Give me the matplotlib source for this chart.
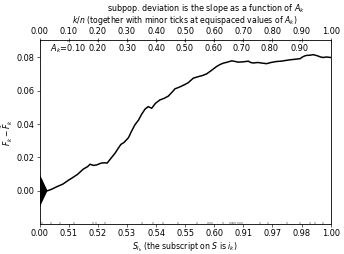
import matplotlib
matplotlib.use('Agg')
import matplotlib.pyplot as plt

# cumulative difference curve (x = k/n, y = F_k - tilde F_k)
xs = [0.0, 0.027, 0.04, 0.06, 0.08, 0.098, 0.11, 0.13, 0.15, 0.165, 0.173,
      0.185, 0.196, 0.21, 0.222, 0.232, 0.245, 0.259, 0.27, 0.279, 0.29,
      0.305, 0.315, 0.327, 0.34, 0.35, 0.362, 0.373, 0.385, 0.398, 0.413,
      0.428, 0.442, 0.455, 0.465, 0.48, 0.497, 0.51, 0.528, 0.545, 0.56,
      0.574, 0.59, 0.608, 0.62, 0.631, 0.645, 0.66, 0.672, 0.682, 0.70,
      0.717, 0.725, 0.734, 0.75, 0.765, 0.78, 0.795, 0.814, 0.83, 0.845,
      0.86, 0.88, 0.895, 0.905, 0.915, 0.93, 0.94, 0.955, 0.965, 0.975,
      0.985, 1.0]
ys = [0.0, 0.0, 0.0008, 0.0025, 0.004, 0.0062, 0.0075, 0.0098, 0.013,
      0.0145, 0.0159, 0.0152, 0.0155, 0.0165, 0.0168, 0.0166, 0.0195,
      0.0225, 0.0255, 0.0278, 0.029, 0.0318, 0.0355, 0.0395, 0.0425,
      0.0458, 0.049, 0.0505, 0.0495, 0.0525, 0.0545, 0.0555, 0.0568,
      0.0592, 0.0612, 0.0622, 0.0636, 0.0648, 0.0676, 0.0685, 0.0692,
      0.0702, 0.0722, 0.0746, 0.0758, 0.0766, 0.0772, 0.078, 0.0776,
      0.0772, 0.0774, 0.0778, 0.077, 0.0767, 0.077, 0.0766, 0.0763, 0.077,
      0.0776, 0.0778, 0.0782, 0.0786, 0.079, 0.0793, 0.0805, 0.0812,
      0.0814, 0.0817, 0.081, 0.0803, 0.08, 0.0803, 0.08]

# scale triangle at the origin
tri_x = [0.0, 0.027, 0.0]
tri_y = [-0.01, 0.0, 0.01]

# bottom axis: S values at the major ticks, plus minor ticks
major_pos = [i / 10 for i in range(11)]
s_labels = ['0.00', '0.51', '0.52', '0.53', '0.54', '0.55', '0.60', '0.91',
            '0.97', '0.98', '1.00']
s_minor = [0.009, 0.039, 0.07, 0.119, 0.184, 0.193, 0.224, 0.351, 0.39,
           0.425, 0.476, 0.54, 0.579, 0.585, 0.591, 0.631, 0.654, 0.66,
           0.665, 0.671, 0.682, 0.688, 0.694, 0.757, 0.786, 0.849, 0.894,
           0.929, 0.946, 0.975]

# top axis: k/n labels, and positions of equispaced A_k values
kn_labels = ['%.2f' % v for v in major_pos]
a_pos = [0.098, 0.2, 0.302, 0.402, 0.498, 0.598, 0.694, 0.79, 0.893]
a_labels = ['$A_k$=0.10', '0.20', '0.30', '0.40', '0.50', '0.60', '0.70',
            '0.80', '0.90']

fig = plt.figure(figsize=(6.4, 254 / 53.906), dpi=53.906)
ax = fig.add_axes([0.115, 0.118, 0.8435, 0.7245])

ax.plot(xs, ys, 'k', linewidth=2)
ax.fill(tri_x, tri_y, 'k')

ax.set_xlim(0, 1)
ax.set_ylim(-0.02, 0.0905)
ax.set_yticks([0.0, 0.02, 0.04, 0.06, 0.08])
ax.set_yticklabels(['0.00', '0.02', '0.04', '0.06', '0.08'])
ax.set_xticks(major_pos)
ax.set_xticklabels(s_labels)
ax.set_xticks(s_minor, minor=True)
ax.xaxis.remove_overlapping_locs = False
ax.tick_params(axis='both', which='major', labelsize=11)
ax.tick_params(axis='x', which='minor', direction='in', length=3)
ax.set_xlabel('$S_{i_k}$ (the subscript on $S$ is $i_k$)', fontsize=10.3,
              labelpad=3)
ax.set_ylabel(r'$F_k - \tilde{F}_k$', fontsize=10.3)
ax.yaxis.set_label_coords(-0.085, 0.5)

ax2 = ax.twiny()
ax2.set_xlim(0, 1)
ax2.set_xticks(major_pos)
ax2.set_xticklabels(kn_labels)
ax2.set_xticks(a_pos, minor=True)
ax2.xaxis.remove_overlapping_locs = False
ax2.tick_params(axis='x', which='major', labelsize=11, direction='inout',
                length=5, pad=3.5)
ax2.tick_params(axis='x', which='minor', direction='in', length=3)
ax2.set_xlabel('$k/n$ (together with minor ticks at equispaced values of $A_k$)',
               fontsize=10.3, labelpad=5)
for p, lab in zip(a_pos, a_labels):
    ax.text(p, 0.0862, lab, ha='center', va='center_baseline', fontsize=11)

fig.text(0.597, 0.9685, 'subpop. deviation is the slope as a function of $A_k$',
         ha='center', va='center', fontsize=10.75)

fig.savefig('out.png')
